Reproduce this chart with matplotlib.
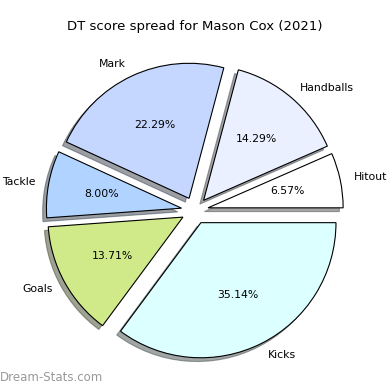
import matplotlib
matplotlib.use("Agg")
import matplotlib.pyplot as plt

labels = ["Hitout", "Handballs", "Mark", "Tackle", "Goals", "Kicks"]
values = [11.5, 25, 39, 14, 24, 61.5]
colors = ["#ffffff", "#eaf0ff", "#c5d7ff", "#b0d4ff", "#d0ea8a", "#dcffff"]
explode = [0.1] * 6

fig = plt.figure(figsize=(3.9, 3.9), dpi=100)
ax = fig.add_axes([0.047, 0.027, 0.905, 0.866])
ax.pie(values, labels=labels, colors=colors, explode=explode, autopct="%1.2f%%",
       shadow=True, startangle=0, counterclock=True,
       wedgeprops=dict(edgecolor="black", linewidth=0.8),
       textprops=dict(fontsize=7.8))
ax.set_aspect("equal")
fig.suptitle("DT score spread for Mason Cox (2021)", fontsize=9.5, y=0.948)
fig.text(0.0, 0.015, "Dream-Stats.com", fontsize=8.5, color="#999999", ha="left", va="bottom")
fig.savefig("out.png", dpi=100)
